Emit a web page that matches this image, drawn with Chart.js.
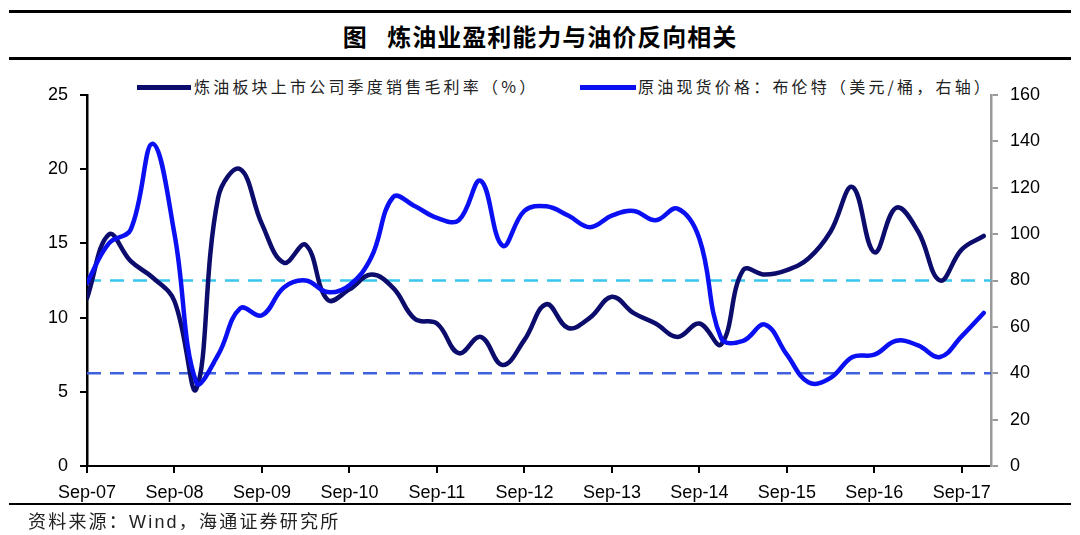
<!DOCTYPE html>
<html><head><meta charset="utf-8">
<script src="https://cdn.jsdelivr.net/npm/chart.js@4.4.0/dist/chart.umd.min.js"></script>
<style>
html,body{margin:0;padding:0;background:#fff;}
#wrap{position:relative;width:1080px;height:535px;overflow:hidden;background:#fff;}
#c{position:absolute;left:0;top:0;}
.rule{position:absolute;left:9px;width:1062px;background:#000;}
#title{position:absolute;left:0;top:20px;width:1080px;text-align:center;font-family:"Noto Sans CJK SC",sans-serif;font-weight:bold;font-size:24px;line-height:32px;letter-spacing:1px;color:#000;white-space:pre;}
.leg{position:absolute;top:75px;font-family:"Noto Sans CJK SC",sans-serif;font-size:16px;line-height:22px;letter-spacing:3.2px;color:#222;white-space:nowrap;}
.sw{position:absolute;top:85px;height:5px;}
#foot{position:absolute;left:28px;top:510px;font-family:"Liberation Sans","Noto Sans CJK SC",sans-serif;font-size:18px;line-height:24px;letter-spacing:2.2px;color:#222;white-space:nowrap;}
</style></head>
<body>
<div id="wrap">
  <div class="rule" style="top:10px;height:3px;"></div>
  <div id="title">图   炼油业盈利能力与油价反向相关</div>
  <div class="rule" style="top:57px;height:3px;"></div>
  <div class="sw" id="sw1" style="left:137px;width:54px;"></div>
  <div class="leg" id="lg1" style="left:194px;"></div>
  <div class="sw" id="sw2" style="left:580px;width:56px;"></div>
  <div class="leg" id="lg2" style="left:638px;"></div>
  <canvas id="c" width="1080" height="535"></canvas>
  <div class="rule" style="top:503px;height:2px;"></div>
  <div id="foot">资料来源：Wind，海通证券研究所</div>
</div>
<script>
// ---- data ----
const periods = ['2007-09','2007-12','2008-03','2008-06','2008-09','2008-12','2009-03','2009-06','2009-09','2009-12',
  '2010-03','2010-06','2010-09','2010-12','2011-03','2011-06','2011-09','2011-12','2012-03','2012-06',
  '2012-09','2012-12','2013-03','2013-06','2013-09','2013-12','2014-03','2014-06','2014-09','2014-12',
  '2015-03','2015-06','2015-09','2015-12','2016-03','2016-06','2016-09','2016-12','2017-03','2017-06',
  '2017-09','2017-12'];
const marginSeries = [11.3,15.6,13.8,12.7,11.1,5.2,18.1,20.0,16.3,13.7,
  14.9,11.2,11.9,12.9,12.0,9.9,9.6,7.6,8.7,6.8,
  8.5,10.9,9.3,10.0,11.4,10.3,9.6,8.7,9.6,8.2,
  13.2,12.9,13.2,14.0,15.8,18.8,14.4,17.4,15.8,12.5,
  14.6,15.5];
const brentSeries = [79,96,102,139,100,36,48,68,65,77,
  80,75,78,90,116,112,107,106,123,95,
  110,112,108,103,108,110,106,111,98,55,
  54,61,48,36,38,47,48,54,52,47,
  56,66];
const tickLabels = ['Sep-07','Sep-08','Sep-09','Sep-10','Sep-11','Sep-12','Sep-13','Sep-14','Sep-15','Sep-16','Sep-17'];
const refLevels = [80, 40]; // right axis
const seriesNames = ['炼油板块上市公司季度销售毛利率（%）','原油现货价格：布伦特（美元/桶，右轴）'];

// ---- styles ----
const C_MARGIN = '#0c0c6c';
const C_BRENT = '#0a10f2';
const C_REF = ['#38c6ee', '#3f62dc'];
const X_MAX = 124;

document.getElementById('lg1').textContent = seriesNames[0];
document.getElementById('lg2').textContent = seriesNames[1];
document.getElementById('sw1').style.background = C_MARGIN;
document.getElementById('sw2').style.background = C_BRENT;

function monthIdx(p){ const [y,m] = p.split('-').map(Number); return (y-2007)*12 + (m-9); }
function labelToMonth(l){ const yy = 2000 + Number(l.slice(4)); return (yy-2007)*12; }
const tickMap = {};
tickLabels.forEach(l => { tickMap[labelToMonth(l)] = l; });

Chart.defaults.font.family = "'Liberation Sans', Arial, sans-serif";
Chart.defaults.color = '#000';

const tickFont = {size:18, family:"'Liberation Sans', Arial, sans-serif"};

new Chart(document.getElementById('c'), {
  type: 'line',
  data: {
    datasets: [
      {label: seriesNames[0], yAxisID:'y', data: periods.map((p,i)=>({x:monthIdx(p), y:marginSeries[i]})),
       borderColor:C_MARGIN, borderWidth:4.5, pointRadius:0, tension:0.4, fill:false, order:2, borderCapStyle:'round', borderJoinStyle:'round'},
      {label: seriesNames[1], yAxisID:'y1', data: periods.map((p,i)=>({x:monthIdx(p), y:brentSeries[i]})),
       borderColor:C_BRENT, borderWidth:4.5, pointRadius:0, tension:0.4, fill:false, order:1, borderCapStyle:'round', borderJoinStyle:'round'},
      ...refLevels.map((v,k)=>({label:'ref'+k, yAxisID:'y1', data:[{x:0,y:v},{x:X_MAX,y:v}],
       borderColor:C_REF[k], borderWidth:2.5, borderDash:[14,9], pointRadius:0, fill:false, order:3}))
    ]
  },
  options: {
    responsive:false, animation:false,
    layout:{padding:{top:95, left:0, right:0, bottom:0}},
    plugins:{legend:{display:false}, tooltip:{enabled:false}, title:{display:false}},
    scales:{
      x:{type:'linear', min:0, max:X_MAX,
         afterBuildTicks: s => { s.ticks = Object.keys(tickMap).map(Number).map(v=>({value:v})); },
         ticks:{callback: v => tickMap[v] || '', font:tickFont, color:'#000', padding:9, maxRotation:0, autoSkip:false},
         grid:{display:true, drawOnChartArea:false, drawTicks:true, tickLength:7, color:'#000', lineWidth:2},
         border:{display:true, color:'#000', width:2},
         afterFit: s => { s.height = 69; }},
      y:{position:'left', min:0, max:25,
         ticks:{stepSize:5, font:tickFont, color:'#000', padding:12},
         grid:{display:true, drawOnChartArea:false, drawTicks:true, tickLength:7, color:'#000', lineWidth:2},
         border:{display:true, color:'#000', width:2.5},
         afterFit: s => { s.width = 87; }},
      y1:{position:'right', min:0, max:160,
         ticks:{stepSize:20, font:tickFont, color:'#000', padding:12},
         grid:{display:true, drawOnChartArea:false, drawTicks:true, tickLength:7, color:'#999', lineWidth:2},
         border:{display:true, color:'#999', width:2.5},
         afterFit: s => { s.width = 89; }}
    }
  }
});
</script>
</body></html>
